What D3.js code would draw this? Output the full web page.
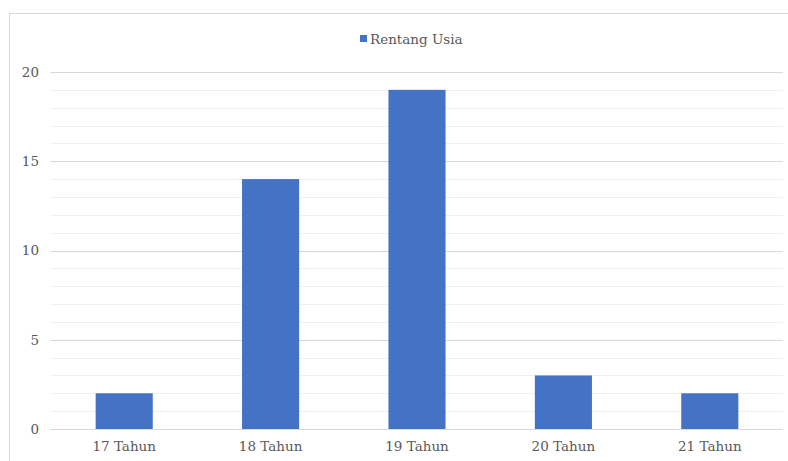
<!DOCTYPE html>
<html>
<head>
<meta charset="utf-8">
<script src="https://cdn.jsdelivr.net/npm/d3@7"></script>
<style>
  html, body { margin: 0; padding: 0; background: #fff; }
  svg { display: block; }
</style>
</head>
<body>
<svg id="chart" width="788" height="461"></svg>
<script>
// Age ranges and respondent counts
const categories = ["17 Tahun", "18 Tahun", "19 Tahun", "20 Tahun", "21 Tahun"];
const values = [2, 14, 19, 3, 2];
const seriesName = "Rentang Usia";
const yTicks = [0, 5, 10, 15, 20];
const yMinorTicks = d3.range(0, 21, 1);

const FONT = "'DejaVu Serif', serif";
const FONT_SIZE = "13.5px";
const TEXT_COLOR = "#595959";

const svg = d3.select("#chart");
const W = 788, H = 461;
const plot = { left: 51, right: 783, top: 72, bottom: 429 };

// Chart frame (left and top edges visible; right/bottom run off the canvas)
svg.append("rect")
  .attr("x", 9.5).attr("y", 13.5)
  .attr("width", W + 10).attr("height", H + 10)
  .attr("fill", "#fff")
  .attr("stroke", "#d9d9d9").attr("stroke-width", 1);

const x = d3.scaleBand()
  .domain(categories)
  .range([plot.left, plot.right])
  .paddingInner(0.61)
  .paddingOuter(0.305);

const y = d3.scaleLinear()
  .domain([0, 20])
  .range([plot.bottom, plot.top]);

// Minor gridlines
svg.append("g")
  .selectAll("line")
  .data(yMinorTicks.filter(v => v % 5 !== 0))
  .join("line")
  .attr("x1", plot.left - 1).attr("x2", plot.right)
  .attr("y1", d => Math.round(y(d)) + 0.5)
  .attr("y2", d => Math.round(y(d)) + 0.5)
  .attr("stroke", "#f0f0f0").attr("stroke-width", 1);

// Major gridlines
svg.append("g")
  .selectAll("line")
  .data(yTicks)
  .join("line")
  .attr("x1", plot.left - 1).attr("x2", plot.right)
  .attr("y1", d => Math.round(y(d)) + 0.5)
  .attr("y2", d => Math.round(y(d)) + 0.5)
  .attr("stroke", "#d9d9d9").attr("stroke-width", 1);

// Y axis labels
const yAxis = d3.axisLeft(y).tickValues(yTicks).tickSize(0).tickPadding(0);
const yg = svg.append("g")
  .attr("transform", `translate(${plot.left - 12},0)`)
  .call(yAxis);
yg.attr("font-family", null).attr("font-size", null);
yg.select(".domain").remove();
yg.selectAll("text")
  .style("font-family", FONT)
  .style("font-size", FONT_SIZE)
  .style("fill", TEXT_COLOR)
  .attr("dy", "0.32em");

// Bars
svg.append("g")
  .selectAll("rect")
  .data(categories.map((c, i) => ({ c, v: values[i] })))
  .join("rect")
  .attr("x", d => x(d.c))
  .attr("width", x.bandwidth())
  .attr("y", d => y(d.v))
  .attr("height", d => y(0) - y(d.v))
  .attr("fill", "#4472c4");

// Redraw baseline above bars
svg.append("line")
  .attr("x1", plot.left - 1).attr("x2", plot.right)
  .attr("y1", Math.round(y(0)) + 0.5).attr("y2", Math.round(y(0)) + 0.5)
  .attr("stroke", "#d9d9d9").attr("stroke-width", 1);

// X axis labels
const xAxis = d3.axisBottom(x).tickSize(0).tickPadding(0);
const xg = svg.append("g")
  .attr("transform", `translate(0,${plot.bottom + 12})`)
  .call(xAxis);
xg.attr("font-family", null).attr("font-size", null);
xg.select(".domain").remove();
xg.selectAll("text")
  .style("font-family", FONT)
  .style("font-size", FONT_SIZE)
  .style("fill", TEXT_COLOR)
  .attr("dy", "0.71em");

// Legend
const legend = svg.append("g").attr("transform", "translate(360,39)");
legend.append("rect")
  .attr("x", 0).attr("y", -4).attr("width", 7).attr("height", 7)
  .attr("fill", "#4472c4");
legend.append("text")
  .attr("x", 10).attr("y", 0)
  .attr("dy", "0.35em")
  .style("font-family", FONT)
  .style("font-size", FONT_SIZE)
  .style("fill", TEXT_COLOR)
  .text(seriesName);
</script>
</body>
</html>
